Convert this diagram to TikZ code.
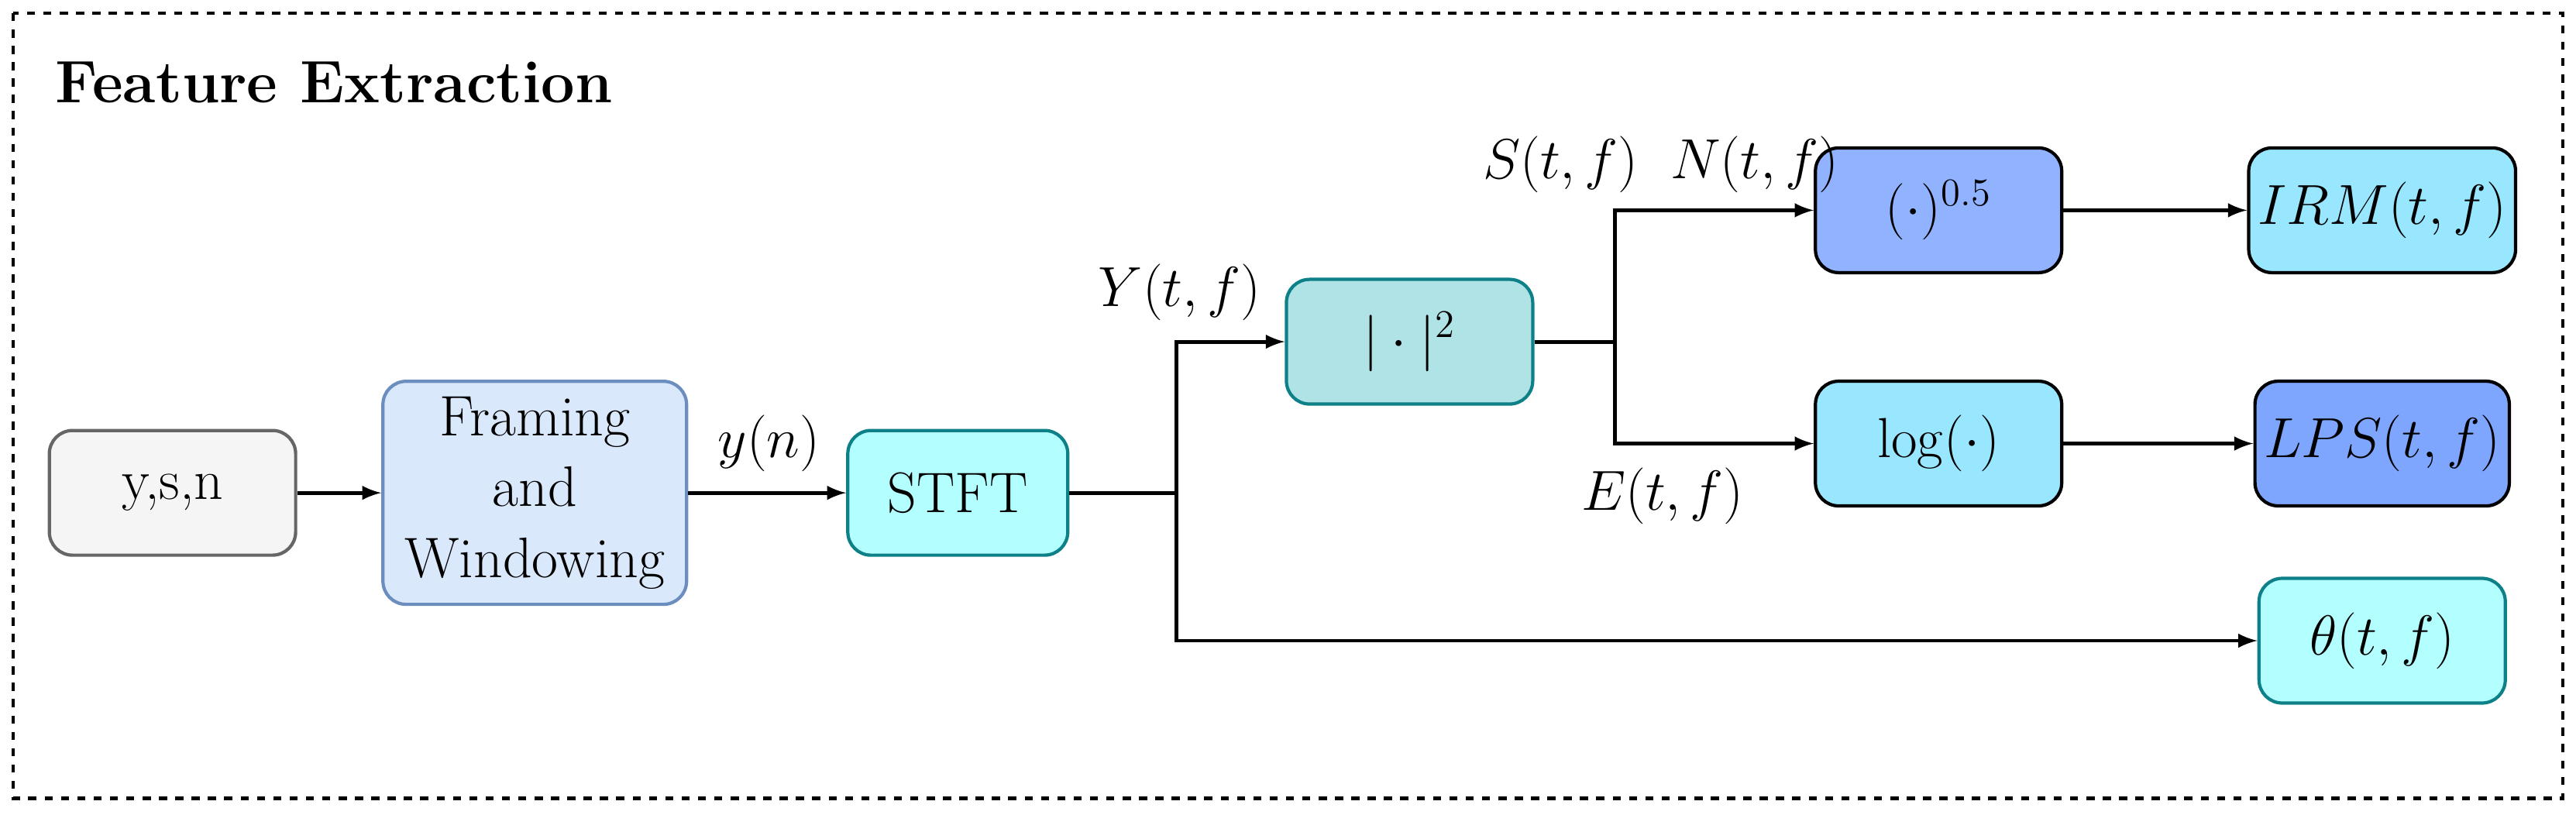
\documentclass[tikz,border=0pt]{standalone}
\usepackage{amsmath}
\usetikzlibrary{calc}

\definecolor{grayfill}{HTML}{F5F5F5}
\definecolor{grayline}{HTML}{666666}
\definecolor{bluefill}{HTML}{DAE8FC}
\definecolor{blueline}{HTML}{6C8EBF}
\definecolor{cyanfill}{HTML}{B3FFFF}
\definecolor{tealfill}{HTML}{B0E3E6}
\definecolor{tealline}{HTML}{0E8088}
\definecolor{skyfill}{HTML}{99E6FF}
\definecolor{deepfill}{HTML}{7EA6FF}

\tikzset{
    blk/.style={draw, rounded corners=3mm, line width=1.2pt,
                minimum width=3.18cm, minimum height=1.61cm,
                align=center, font=\fontsize{21}{26}\selectfont},
    lbl/.style={font=\fontsize{21}{26}\selectfont},
    conn/.style={->, >=latex, line width=1.4pt},
}

\begin{document}
\begin{tikzpicture}[x=0.021205cm, y=-0.021205cm]
    \useasboundingbox (0,0) rectangle (1568,496);
    \draw[dashed, line width=1.2pt] (8,8) rectangle (1560,486);
    \node[anchor=west, font=\fontsize{22}{26}\selectfont\bfseries] (title) at (28,50) {Feature Extraction};

    % boxes
    \node[blk, fill=grayfill, draw=grayline] (ysn) at (105,300) {y,s,n};
    \node[blk, fill=bluefill, draw=blueline, minimum width=3.92cm, minimum height=2.88cm] (frame) at (325.5,300) {Framing\\and\\Windowing};
    \node[blk, fill=cyanfill, draw=tealline, minimum width=2.84cm] (stft) at (583,300) {STFT};
    \node[blk, fill=tealfill, draw=tealline] (abs) at (858,208) {$|\cdot|^2$};
    \node[blk, fill=deepfill!85!white, draw=black] (root) at (1180,128) {$(\cdot)^{0.5}$};
    \node[blk, fill=skyfill, draw=black] (log) at (1180,270) {$\log(\cdot)$};
    \node[blk, fill=skyfill, draw=black] (irm) at (1450,128) {$IRM(t,f)$};
    \node[blk, fill=deepfill, draw=black] (lps) at (1450,270) {$LPS(t,f)$};
    \node[blk, fill=cyanfill, draw=tealline] (phase) at (1450,390) {$\theta(t,f)$};

    % junctions
    \coordinate (j1) at (716,300);
    \coordinate (j2) at (983,208);

    \draw[conn] (ysn) -- (frame);
    \draw[conn] (frame) -- (stft);
    \draw[line width=1.4pt] (stft) -- (j1);
    \draw[conn] (j1) |- (abs);
    \draw[conn] (j1) |- (phase);
    \draw[line width=1.4pt] (abs) -- (j2);
    \draw[conn] (j2) |- (root);
    \draw[conn] (j2) |- (log);
    \draw[conn] (root) -- (irm);
    \draw[conn] (log) -- (lps);

    % labels
    \node[lbl] (yn) at (468,270) {$y(n)$};
    \node[lbl] (Ytf) at (718,178) {$Y(t,f)$};
    \node[lbl] (Stf) at (950,100) {$S(t,f)$};
    \node[lbl] (Ntf) at (1068,100) {$N(t,f)$};
    \node[lbl] (Etf) at (1012,302) {$E(t,f)$};
\end{tikzpicture}
\end{document}
